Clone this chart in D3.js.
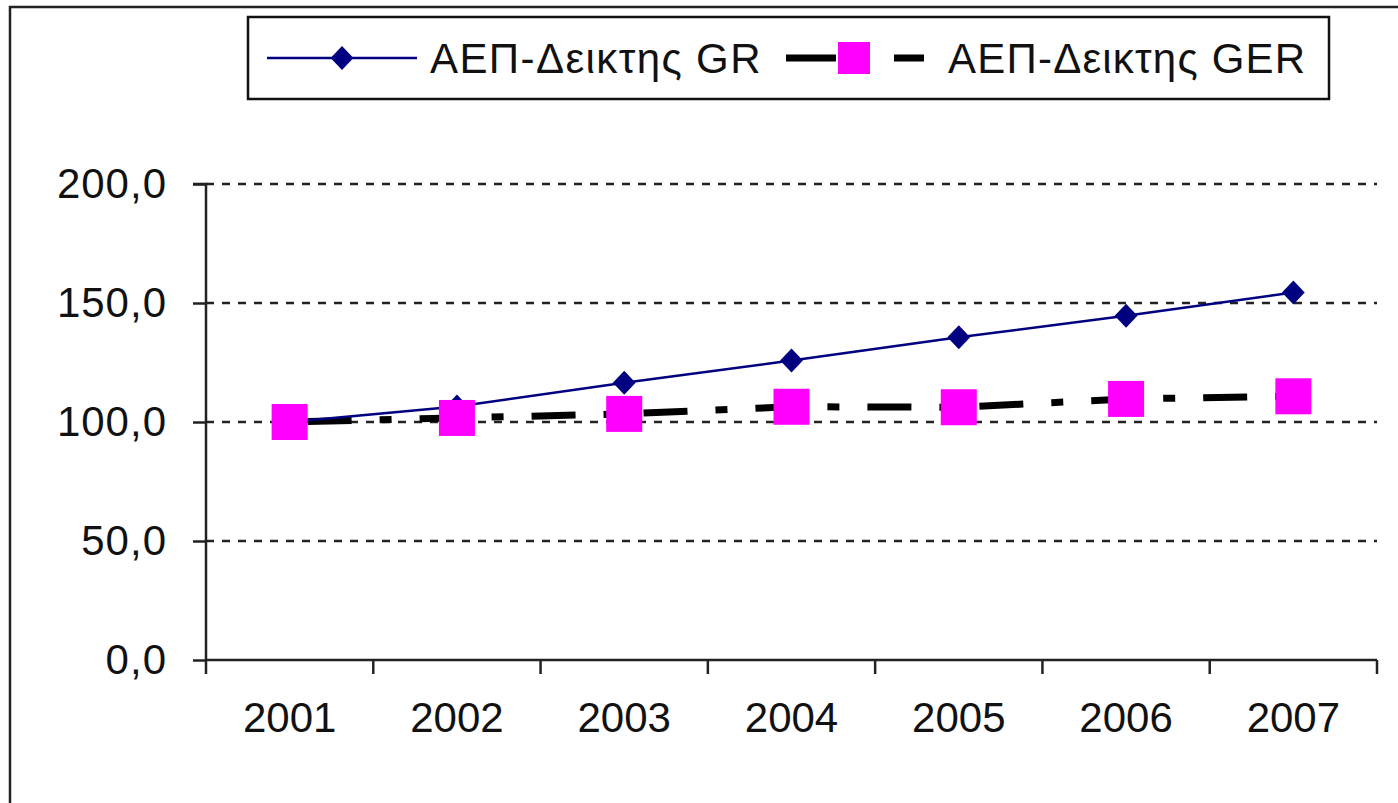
<!DOCTYPE html>
<html>
<head>
<meta charset="utf-8">
<script src="https://cdn.jsdelivr.net/npm/d3@7"></script>
<style>
  html, body { margin: 0; padding: 0; background: #fff; }
  svg { display: block; font-family: "Liberation Sans", Arial, sans-serif; }
</style>
</head>
<body>
<svg id="chart" width="1398" height="803"></svg>
<script>
const years = ["2001", "2002", "2003", "2004", "2005", "2006", "2007"];
const seriesGR = [100.0, 106.5, 116.5, 125.8, 135.6, 144.6, 154.4];
const seriesGER = [100.0, 101.7, 103.4, 106.4, 106.2, 109.7, 110.8];
const seriesNames = ["ΑΕΠ-Δεικτης GR", "ΑΕΠ-Δεικτης GER"];
const yTicks = [0, 50, 100, 150, 200];

const svg = d3.select("#chart");
const W = 1398, H = 803;
const plot = { left: 206, right: 1377, top: 184, bottom: 660 };
const fontSize = 42;
const gerDash = "44,28,12,28";

// outer border
svg.append("rect").attr("x", 10).attr("y", 7).attr("width", W).attr("height", H)
  .attr("fill", "#fff").attr("stroke", "#222").attr("stroke-width", 2.5);

const x = d3.scaleBand().domain(years).range([plot.left, plot.right]).padding(0);
const y = d3.scaleLinear().domain([0, 200]).range([plot.bottom, plot.top]);
const cx = d => x(d) + x.bandwidth() / 2;

// gridlines
svg.append("g").selectAll("line").data(yTicks.filter(t => t > 0)).join("line")
  .attr("x1", plot.left).attr("x2", plot.right)
  .attr("y1", d => y(d)).attr("y2", d => y(d))
  .attr("stroke", "#222").attr("stroke-width", 2.5).attr("stroke-dasharray", "8,8");

// y axis
const yAxis = d3.axisLeft(y).tickValues(yTicks).tickSize(13).tickPadding(26)
  .tickFormat(d => d3.format(".1f")(d).replace(".", ","));
const gy = svg.append("g").attr("transform", `translate(${plot.left},0)`).call(yAxis);
gy.select(".domain").attr("stroke", "#222").attr("stroke-width", 2.5).attr("d", `M-13,${plot.top}H0V${plot.bottom}`);
gy.selectAll(".tick line").attr("stroke", "#222").attr("stroke-width", 2.5);
gy.selectAll(".tick text").attr("font-size", fontSize).attr("fill", "#111")
  .attr("letter-spacing", 1)
  .attr("font-family", "Liberation Sans, Arial, sans-serif");

// x axis
const xAxis = d3.axisBottom(x).tickSize(0).tickPadding(42);
const gx = svg.append("g").attr("transform", `translate(0,${plot.bottom})`).call(xAxis);
gx.select(".domain").attr("stroke", "#222").attr("stroke-width", 2.5).attr("d", `M${plot.left},0H${plot.right}`);
gx.selectAll(".tick text").attr("font-size", fontSize).attr("fill", "#111")
  .attr("font-family", "Liberation Sans, Arial, sans-serif");
// category boundary ticks
const bounds = years.map(d => x(d)).concat([x(years[years.length - 1]) + x.bandwidth()]);
gx.append("g").selectAll("line").data(bounds).join("line")
  .attr("x1", d => d).attr("x2", d => d).attr("y1", 0).attr("y2", 14)
  .attr("stroke", "#222").attr("stroke-width", 2.5);

// GER line (dashed, behind)
const lineGER = d3.line().x((d, i) => cx(years[i])).y(d => y(d));
svg.append("path").datum(seriesGER).attr("d", lineGER)
  .attr("fill", "none").attr("stroke", "#000").attr("stroke-width", 7)
  .attr("stroke-dasharray", gerDash).attr("stroke-dashoffset", -18);

// GR line
const lineGR = d3.line().x((d, i) => cx(years[i])).y(d => y(d));
svg.append("path").datum(seriesGR).attr("d", lineGR)
  .attr("fill", "none").attr("stroke", "#000080").attr("stroke-width", 2.5);

const diamond = (s) => `M0,${-s}L${s * 0.95},0L0,${s}L${-s * 0.95},0Z`;
svg.append("g").selectAll("path").data(seriesGR).join("path")
  .attr("transform", (d, i) => `translate(${cx(years[i])},${y(d)})`)
  .attr("d", diamond(12)).attr("fill", "#000080");

const sq = 36;
svg.append("g").selectAll("rect").data(seriesGER).join("rect")
  .attr("x", (d, i) => cx(years[i]) - sq / 2).attr("y", d => y(d) - sq / 2)
  .attr("width", sq).attr("height", sq).attr("fill", "#ff00ff");

// legend
const lg = svg.append("g");
lg.append("rect").attr("x", 248).attr("y", 17).attr("width", 1081).attr("height", 82)
  .attr("fill", "#fff").attr("stroke", "#111").attr("stroke-width", 2.5);
lg.append("line").attr("x1", 267).attr("x2", 417).attr("y1", 58).attr("y2", 58)
  .attr("stroke", "#000080").attr("stroke-width", 2.5);
lg.append("path").attr("transform", "translate(342,58)").attr("d", diamond(12)).attr("fill", "#000080");
lg.append("text").attr("x", 430).attr("y", 73).attr("font-size", fontSize).attr("fill", "#111")
  .attr("letter-spacing", 1.4).text(seriesNames[0]);
lg.append("line").attr("x1", 786).attr("x2", 940).attr("y1", 58).attr("y2", 58)
  .attr("stroke", "#000").attr("stroke-width", 7).attr("stroke-dasharray", "50,18,12,28,30");
lg.append("rect").attr("x", 838).attr("y", 42).attr("width", 32).attr("height", 32).attr("fill", "#ff00ff");
lg.append("text").attr("x", 948).attr("y", 73).attr("font-size", fontSize).attr("fill", "#111")
  .attr("letter-spacing", 1.2).text(seriesNames[1]);
</script>
</body>
</html>
